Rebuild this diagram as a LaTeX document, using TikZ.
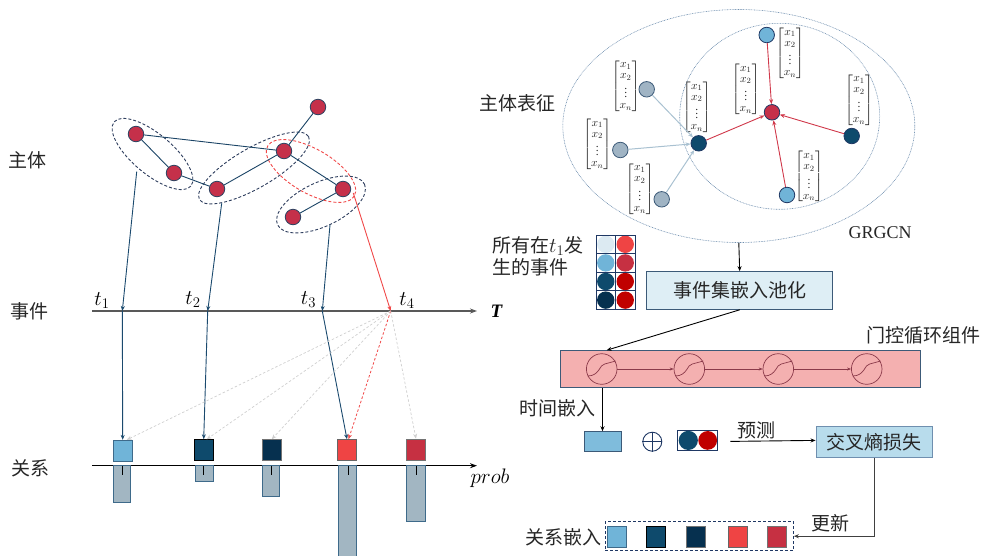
\documentclass[tikz,border=0pt]{standalone}
\usepackage{fix-cm}
\usepackage{fontspec}
\usepackage{amsmath}
\setmainfont{Liberation Serif}
\newfontfamily\cjk{Noto Sans CJK SC}
\usetikzlibrary{arrows.meta,shapes.geometric,calc}

\definecolor{entred}{HTML}{C5304A}
\definecolor{entline}{HTML}{2E4260}
\definecolor{linkblue}{HTML}{1B4466}
\definecolor{grpnavy}{HTML}{2E3E5E}
\definecolor{grpred}{HTML}{F04848}
\definecolor{arrblue}{HTML}{1B4A6E}
\definecolor{ghostgrey}{HTML}{CFCFCF}
\definecolor{txt}{HTML}{262626}
\definecolor{rlight}{HTML}{70B4D8}
\definecolor{rteal}{HTML}{0E4A6C}
\definecolor{rnavy}{HTML}{06304F}
\definecolor{rred}{HTML}{EF4444}
\definecolor{rcrim}{HTML}{C63042}
\definecolor{rdeep}{HTML}{C00000}
\definecolor{rpale}{HTML}{DCEAF2}
\definecolor{barfill}{HTML}{A2B6C2}
\definecolor{barline}{HTML}{3E6A8A}
\definecolor{slate}{HTML}{3C5A78}
\definecolor{poolfill}{HTML}{DEEEF5}
\definecolor{grufill}{HTML}{F4B0B0}
\definecolor{grured}{HTML}{8B3A4A}
\definecolor{lossfill}{HTML}{B8DCEC}
\definecolor{tfill}{HTML}{7FBCDC}
\definecolor{dotblue}{HTML}{6F8FAF}
\definecolor{greynode}{HTML}{A0B4C4}
\definecolor{greyarr}{HTML}{A9C1D1}
\definecolor{redarr}{HTML}{D0384A}
\definecolor{gridnavy}{HTML}{1F3864}

\begin{document}
\begin{tikzpicture}[x=1pt,y=-1pt,
  ent/.style={circle, draw=entline, fill=entred, line width=0.8pt, minimum size=15.5pt, inner sep=0pt},
  lnk/.style={draw=linkblue, line width=0.9pt},
  grp/.style={draw=grpnavy, line width=0.9pt, dash pattern=on 3pt off 2pt},
  grpr/.style={draw=grpred, line width=0.9pt, dash pattern=on 3pt off 2pt},
  cjklab/.style={font=\cjk\fontsize{19}{22}\selectfont, text=txt, inner sep=0pt},
  tip/.style={-{Stealth[length=5pt,width=4pt]}},
  dwn/.style={tip, draw=arrblue, line width=0.9pt},
  ghost/.style={tip, draw=ghostgrey, dash pattern=on 2.5pt off 2pt, line width=0.7pt},
  relbox/.style={draw, minimum width=19pt, minimum height=21pt, inner sep=0pt, line width=0.9pt},
  bar/.style={fill=barfill, draw=barline, line width=1pt},
  tlab/.style={font=\fontsize{21}{24}\selectfont, inner sep=0pt},
  vec/.style={font=\fontsize{11.5}{11}\selectfont, inner sep=0pt, text=txt},
  rnode/.style={circle, draw=gridnavy, line width=0.8pt, minimum size=15.5pt, inner sep=0pt},
  gru/.style={circle, draw=grured, line width=0.7pt, minimum size=30.6pt, inner sep=0pt},
  dots/.style={draw=dotblue, line width=0.6pt, dash pattern=on 0.8pt off 0.8pt}
]
\useasboundingbox (0,0) rectangle (983,555);

% ---------------- left: entities, events, relations ----------------
\node[cjklab] (lEnt) at (28,160) {主体};
\node[cjklab] (lEvt) at (29,311) {事件};
\node[cjklab] (lRel) at (31,468) {关系};

% entity groups
\draw[grp, rotate around={-40:(152.5,154)}] (152.5,154) ellipse [x radius=50, y radius=20];
\draw[grp, rotate around={30:(254,168)}] (254,168) ellipse [x radius=63, y radius=20];
\draw[grpr, rotate around={-30:(311,171)}] (311,171) ellipse [x radius=50, y radius=22];
\draw[grp, rotate around={25:(321,204.5)}] (321,204.5) ellipse [x radius=48, y radius=22];

% entities
\node[ent] (A) at (136,134) {};
\node[ent] (B) at (174,173) {};
\node[ent] (C) at (217,189) {};
\node[ent] (D) at (284,151) {};
\node[ent] (E) at (318,107) {};
\node[ent] (F) at (343,189) {};
\node[ent] (G) at (293,217) {};
\draw[lnk] (A) -- (B);
\draw[lnk] (A) -- (D);
\draw[lnk] (B) -- (C);
\draw[lnk] (C) -- (D);
\draw[lnk] (D) -- (E);
\draw[lnk] (D) -- (F);
\draw[lnk] (F) -- (G);

% time axis
\coordinate (ax0) at (92,311);
\coordinate (ax1) at (477,311);
\draw[draw=black!65, line width=1.3pt, -{Stealth[length=7pt,width=5pt]}] (ax0) -- (ax1);
\node[font=\fontsize{19}{22}\selectfont\bfseries\itshape, inner sep=0pt] (Tlab) at (496.5,311) {T};

\coordinate (t1) at (122.3,311);
\coordinate (t2) at (207.7,311);
\coordinate (t3) at (322.3,311);
\coordinate (t4) at (390.7,311);
\node[tlab] (t1l) at (102,300.5) {$t_1$};
\node[tlab] (t2l) at (193,299.5) {$t_2$};
\node[tlab] (t3l) at (308.5,299.5) {$t_3$};
\node[tlab] (t4l) at (407,300.5) {$t_4$};

\coordinate (s1) at (136.7,171.7);
\coordinate (s2) at (221.7,203.3);
\coordinate (s3) at (330,225);
\coordinate (s4) at (353.3,193);
\draw[dwn] (s1) -- (t1);
\draw[dwn] (s2) -- (t2);
\draw[dwn] (s3) -- (t3);
\draw[tip, draw=grpred, line width=0.9pt] (s4) -- (t4);

% probability axis
\coordinate (pa0) at (92,465.7);
\coordinate (pa1) at (477,465.7);
\draw[line width=1pt, -{Stealth[length=7pt,width=5pt]}] (pa0) -- (pa1);
\node[font=\fontsize{21}{24}\selectfont, inner sep=0pt] (plab) at (490,478) {$prob$};

% probability bars
\draw[bar] (113.3,465.7) rectangle (130,502.7);
\draw[bar] (195,465.7) rectangle (213.3,481.3);
\draw[bar] (262.7,465.7) rectangle (279.3,496);
\draw[bar] (338.3,465.7) rectangle (356.7,556);
\draw[bar] (406,465.7) rectangle (425,521);
\foreach \x in {122.3,203.7,271.7,348,416.3}
  \draw[line width=0.9pt] (\x,466) -- (\x,475);

% relation boxes
\node[relbox, fill=rlight, draw=barline] (b1) at (122.7,450.8) {};
\node[relbox, fill=rteal, draw=black] (b2) at (203.7,450.2) {};
\node[relbox, fill=rnavy, draw=black!55] (b3) at (271.7,450.2) {};
\node[relbox, fill=rred, draw=black!60] (b4) at (347,450.2) {};
\node[relbox, fill=rcrim, draw=black!55] (b5) at (416,449.7) {};

\draw[dwn] (t1) -- (b1.north);
\draw[dwn] (t2) -- (b2.north);
\draw[dwn] (t3) -- (b3.north -| b4.north);
\draw[ghost] (t4) -- ($(b1.north)+(4,0)$);
\draw[ghost] (t4) -- ($(b2.north)+(3,0)$);
\draw[ghost] (t4) -- (b3.north);
\draw[tip, draw=grpred, dash pattern=on 2.5pt off 2pt, line width=0.8pt] (t4) -- ($(b4.north)+(1.5,0)$);
\draw[ghost] (t4) -- (b5.north);

% ---------------- right: entity representation ----------------
\node[ellipse, dots, minimum width=352pt, minimum height=233pt, inner sep=0pt] (outer) at (738.8,126) {};
\node[ellipse, dots, minimum width=200pt, minimum height=186pt, inner sep=0pt] (inner) at (779.7,116.3) {};
\node[cjklab] (lRep) at (517,103) {主体表征};
\node[font=\fontsize{18}{20}\selectfont, text=txt, inner sep=0pt] (gcn) at (880,233) {GRGCN};

\newcommand{\xvec}{$\begin{bmatrix}x_1\\x_2\\\vdots\\x_n\end{bmatrix}$}
\node[vec] (vTop) at (790,53.3) {\xvec};
\node[vec] (vCen) at (745.7,89.3) {\xvec};
\node[vec] (vHub) at (696.7,107.3) {\xvec};
\node[vec] (vR) at (859,100) {\xvec};
\node[vec] (vB) at (809,176.7) {\xvec};
\node[vec] (vG1) at (625.7,86) {\xvec};
\node[vec] (vG2) at (597.3,144.3) {\xvec};
\node[vec] (vG3) at (639.7,189) {\xvec};

\node[rnode, fill=rlight] (nTop) at (766.7,35) {};
\node[rnode, fill=entred] (nRed) at (772,112.3) {};
\node[rnode, fill=rteal] (nR) at (851.7,136) {};
\node[rnode, fill=rlight] (nB) at (787,195) {};
\node[rnode, fill=rteal] (nHub) at (698.7,143.3) {};
\node[rnode, fill=greynode, draw=slate] (g1) at (646.7,89.3) {};
\node[rnode, fill=greynode, draw=slate] (g2) at (620.3,150) {};
\node[rnode, fill=greynode, draw=slate] (g3) at (661.7,199.3) {};

\foreach \s in {g1,g2,g3}
  \draw[tip, draw=greyarr, line width=1pt] (\s) -- (nHub);
\foreach \s in {nTop,nR,nB,nHub}
  \draw[tip, draw=redarr, line width=0.9pt] (\s) -- (nRed);

% events at t1
\node[cjklab, anchor=base west] (ev1) at (492,252) {所有在\fontsize{21}{22}\selectfont$t_1$\fontsize{19}{22}\selectfont 发};
\node[cjklab, anchor=base west] (ev2) at (492,274) {生的事件};
\foreach \c [count=\i from 0] in {rpale,rlight,rteal,rnavy}
  \fill[\c] (605.75,244.3+18.6*\i) circle (8.7);
\foreach \c [count=\i from 0] in {rred,rcrim,rdeep,rdeep}
  \fill[\c] (625.25,244.3+18.6*\i) circle (8.7);
\foreach \i in {0,1,2,3} {
  \draw[gridnavy, line width=0.8pt] (596,235+18.6*\i) rectangle (615.5,253.6+18.6*\i);
  \draw[gridnavy, line width=0.8pt] (615.5,235+18.6*\i) rectangle (635,253.6+18.6*\i);
}

% pooling and recurrent part
\node[draw=slate, fill=poolfill, line width=1pt, minimum width=186pt, minimum height=37.6pt, inner sep=0pt, cjklab] (pool) at (739.7,290.5) {事件集嵌入池化};
\draw[tip, line width=0.9pt] (outer.south) -- (pool.north);

\node[draw=slate, fill=grufill, line width=1pt, minimum width=360pt, minimum height=37.7pt, inner sep=0pt] (gruBox) at (740,368.9) {};
\node[cjklab] (gruLab) at (923,335) {门控循环组件};
\foreach \x [count=\i] in {601.7,689.3,778.3,866.7} {
  \node[gru] (c\i) at (\x,369) {};
  \draw[grured, line width=0.7pt] ($(c\i)+(-14,7)$) .. controls ($(c\i)+(-2,7)$) and ($(c\i)+(-2,-5)$) .. ($(c\i)+(3,-5)$) -- ($(c\i)+(14,-8)$);
}
\foreach \a/\b in {c1/c2,c2/c3,c3/c4}
  \draw[-{Stealth[length=4pt,width=3pt]}, draw=grured, line width=0.6pt] (\a) -- (\b);
\coordinate (gruIn) at (606.7,350.2);
\draw[tip, line width=0.9pt] (pool.south) -- (gruIn);

% prediction
\node[cjklab] (lTime) at (557.5,408.3) {时间嵌入};
\node[draw=slate, fill=tfill, line width=1pt, minimum width=37pt, minimum height=19.3pt, inner sep=0pt] (tbox) at (602.5,441.4) {};
\draw[tip, line width=0.9pt] (tbox.north |- gruBox.south) -- (tbox.north);

\node[circle, draw=gridnavy, line width=0.9pt, minimum size=19pt, inner sep=0pt] (plus) at (652.3,441.7) {};
\draw[gridnavy, line width=0.9pt] (plus.north) -- (plus.south);
\draw[gridnavy, line width=0.9pt] (plus.west) -- (plus.east);

\node[draw=gridnavy, line width=0.9pt, minimum width=39.6pt, minimum height=19.3pt, inner sep=0pt] (pair) at (697.5,440.4) {};
\fill[rteal] (688.3,440.4) circle (9.6);
\fill[rdeep] (707.7,440.4) circle (9.4);

\node[draw=dotblue, fill=lossfill, line width=1pt, minimum width=116.3pt, minimum height=30.6pt, inner sep=0pt, cjklab] (loss) at (874.2,442) {交叉熵损失};
\draw[tip, line width=0.9pt] ($(pair.east)+(12.7,1)$) -- (loss.west |- pair.east) ;
\node[cjklab] (lPred) at (756,430.7) {预测};

% relation embedding update
\node[draw=gridnavy, dash pattern=on 3pt off 2pt, line width=0.9pt, minimum width=188.3pt, minimum height=29pt, inner sep=0pt] (rel) at (699.2,536.2) {};
\node[cjklab, anchor=east] (lRelEmb) at (602,537) {关系嵌入};
\node[relbox, fill=rlight, draw=barline, minimum height=20.6pt] (r1) at (617.2,537) {};
\node[relbox, fill=rteal, draw=black, minimum height=20.6pt] (r2) at (656.2,537) {};
\node[relbox, fill=rnavy, draw=black!55, minimum height=20.6pt] (r3) at (695.9,537) {};
\node[relbox, fill=rred, draw=black!60, minimum height=20.6pt] (r4) at (737.5,537) {};
\node[relbox, fill=rcrim, draw=black!55, minimum height=20.6pt] (r5) at (777,537) {};
\draw[tip, draw=black!75, line width=1pt] (loss.south) |- (rel.east);
\node[cjklab] (lUpd) at (830,523.3) {更新};
\end{tikzpicture}
\end{document}
